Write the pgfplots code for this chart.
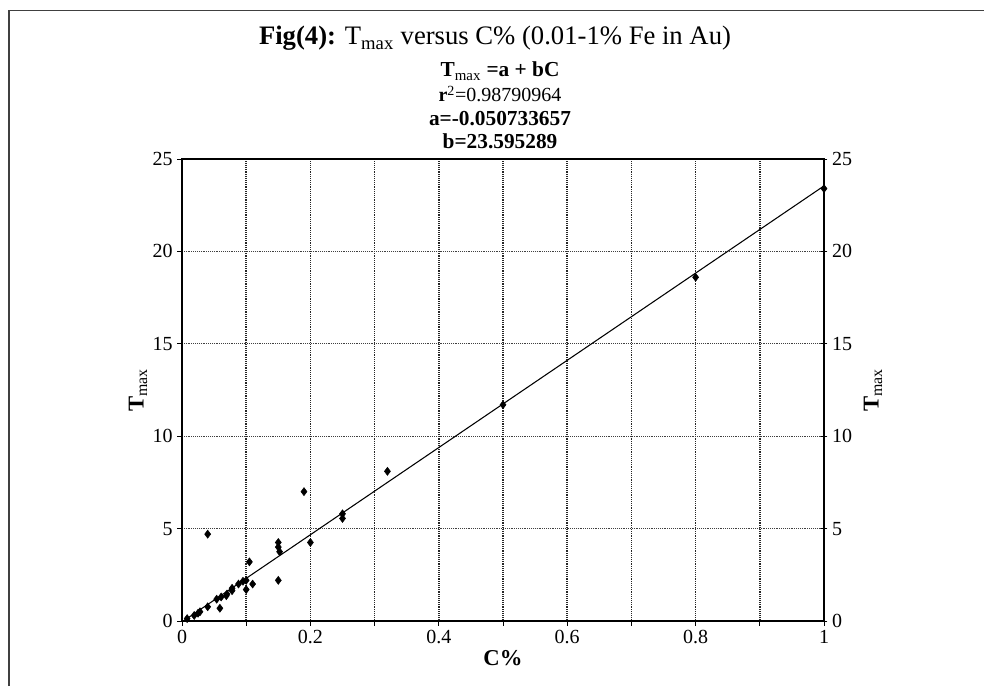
\documentclass[border=0pt]{standalone}
\usepackage{pgfplots}
\pgfplotsset{compat=1.18}
\usepackage{fontspec}
\setmainfont{Liberation Serif}
\begin{document}
\begin{tikzpicture}
\useasboundingbox (0,0) rectangle (738pt,514.5pt);
\draw[line width=1.1pt, black!75] (6.75pt,0) -- (6.75pt,506.6pt) -- (738pt,506.6pt);
\node[anchor=base] at (371.25pt,480.75pt) {\fontsize{20}{24}\selectfont\textbf{Fig(4):} T\textsubscript{max} versus C\% (0.01-1\% Fe in Au)};
\node[anchor=base] at (375pt,456.75pt) {\fontsize{16}{19}\selectfont\textbf{T}\textsubscript{max} \textbf{=a + bC}};
\node[anchor=base] at (375pt,438pt) {\fontsize{15}{18}\selectfont\textbf{r}\textsuperscript{2}=0.98790964};
\node[anchor=base] at (375pt,420pt) {\fontsize{16}{19}\selectfont\textbf{a=-0.050733657}};
\node[anchor=base] at (375pt,402.75pt) {\fontsize{16}{19}\selectfont\textbf{b=23.595289}};
\begin{axis}[
  at={(136.5pt,48.75pt)}, anchor=south west,
  width=481.5pt, height=346.5pt, scale only axis,
  xmin=0, xmax=1, ymin=0, ymax=25,
  xtick={0,0.1,0.2,0.3,0.4,0.5,0.6,0.7,0.8,0.9,1},
  xticklabels={0,,0.2,,0.4,,0.6,,0.8,,1},
  ytick={0,5,10,15,20,25},
  xtick pos=bottom, ytick pos=left,
  tick align=outside, major tick length=3.5pt,
  axis line style={line width=0.8pt},
  tick style={black, line width=0.6pt},
  grid=major,
  x grid style={black!85, densely dotted, line width=1.1pt},
  y grid style={black!75, densely dotted, line width=0.55pt},
  tick label style={font=\fontsize{15}{18}\selectfont},
  /pgf/number format/assume math mode=true,
  xlabel={\textbf{C\%}},
  xlabel style={at={(axis description cs:0.5,-0.08)}, anchor=center, font=\fontsize{17}{20}\selectfont},
  ylabel={\textbf{T}\textsubscript{max}},
  ylabel style={at={(axis description cs:-0.0685,0.5)}, anchor=center, rotate=0, font=\fontsize{17}{20}\selectfont},
  clip=true,
]
\addplot[black, line width=0.8pt, no marks] coordinates {(0,-0.050733657) (1,23.544555)};
\addplot[only marks, mark=diamond*, mark size=3pt, black] coordinates {
(0.008,0.13) (0.019,0.3) (0.025,0.42) (0.028,0.5) (0.04,0.77) (0.04,4.7)
(0.054,1.18) (0.059,0.69) (0.061,1.3) (0.069,1.37) (0.07,1.46)
(0.078,1.64) (0.078,1.77) (0.088,2.0) (0.095,2.15) (0.1,2.2) (0.1,1.7)
(0.11,2.0) (0.105,3.2)
(0.15,4.25) (0.15,4.0) (0.152,3.75) (0.15,2.2)
(0.19,7.0) (0.2,4.25) (0.25,5.8) (0.25,5.55) (0.32,8.1)
(0.5,11.7) (0.8,18.6) (1,23.4)
};
\end{axis}
\begin{axis}[
  at={(136.5pt,48.75pt)}, anchor=south west,
  width=481.5pt, height=346.5pt, scale only axis,
  xmin=0, xmax=1, ymin=0, ymax=25,
  axis x line=none, axis y line*=right,
  ytick={0,5,10,15,20,25},
  tick align=center, major tick length=5pt,
  axis line style={line width=0.8pt},
  tick style={black, line width=0.6pt},
  tick label style={font=\fontsize{15}{18}\selectfont},
  /pgf/number format/assume math mode=true,
  ylabel={\textbf{T}\textsubscript{max}},
  ylabel style={at={(axis description cs:1.0763,0.5)}, anchor=center, rotate=0, font=\fontsize{17}{20}\selectfont},
]
\end{axis}
\end{tikzpicture}
\end{document}
